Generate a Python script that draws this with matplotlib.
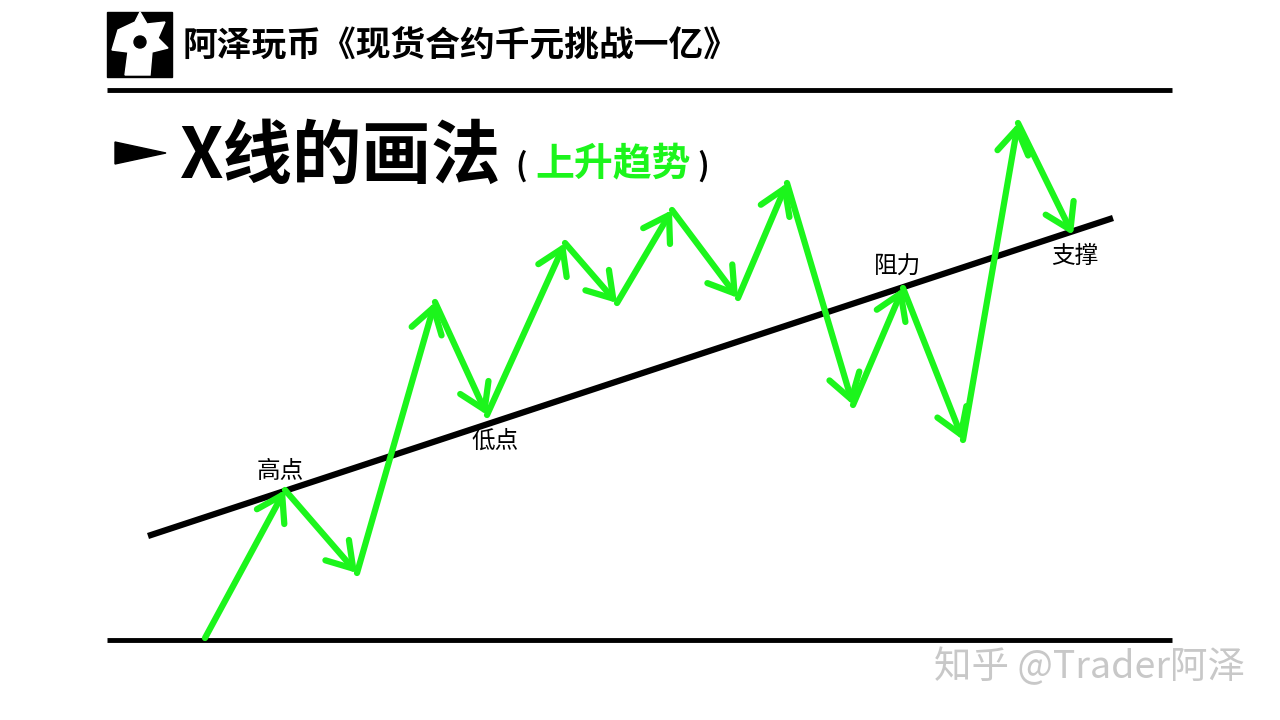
import matplotlib
matplotlib.use("Agg")
import matplotlib.pyplot as plt
from matplotlib.patches import FancyArrowPatch, Rectangle, Polygon, Circle

plt.rcParams['font.family'] = ['Noto Sans CJK SC', 'DejaVu Sans']

# zigzag price path (pixel coordinates of the slide, y down)
path_x = [205, 285, 357, 435, 487, 565, 617, 672, 738, 787, 853, 903, 963, 1018, 1073]
path_y = [638, 490, 573, 302, 415, 243, 303, 210, 298, 183, 405, 288, 440, 123, 235]
# trend line
trend_x = [148, 1113]
trend_y = [536, 218]
# annotations
label_text = ["高点", "低点", "阻力", "支撑"]
label_x = [280, 495, 898, 1075]
label_y = [472, 441, 267, 256]

GREEN = "#1cf51c"

fig = plt.figure(figsize=(12.8, 7.2), dpi=100)
ax = fig.add_axes([0, 0, 1, 1])
ax.set_xlim(0, 1280); ax.set_ylim(720, 0); ax.axis("off")

# header
ax.add_patch(Rectangle((107, 12), 65, 65, color="black"))
ax.add_patch(Polygon([(118, 30), (135, 22), (140, 12), (147, 24), (165, 22), (158, 38),
                      (168, 48), (152, 52), (150, 75), (125, 75), (128, 52), (112, 50)],
                     color="white"))
ax.add_patch(Circle((140, 42), 6, color="black"))
ax.text(183, 45, "阿泽玩币《现货合约千元挑战一亿》", fontsize=25, fontweight="bold",
        va="center", ha="left")
ax.plot([107, 1172], [90, 90], color="black", lw=3.5, solid_capstyle="butt")
ax.plot([107, 1172], [640, 640], color="black", lw=3.5, solid_capstyle="butt")

# title
ax.add_patch(Polygon([(115, 142), (115, 164), (166, 153)], color="black"))
ax.text(180, 158, "X线的画法", fontsize=50, fontweight="heavy", va="center", ha="left")
ax.text(515, 166, "(", fontsize=22, fontweight="bold", va="center", ha="left")
ax.text(535, 164, "上升趋势", fontsize=28, fontweight="bold", color=GREEN,
        va="center", ha="left")
ax.text(697, 166, ")", fontsize=22, fontweight="bold", va="center", ha="left")

# trend line
ax.plot(trend_x, trend_y, color="black", lw=4.5, solid_capstyle="butt", zorder=2)

# arrows
for i in range(len(path_x) - 1):
    ar = FancyArrowPatch((path_x[i], path_y[i]), (path_x[i + 1], path_y[i + 1]),
                         arrowstyle="->,head_length=11,head_width=7",
                         color=GREEN, lw=4.5, mutation_scale=1.6,
                         shrinkA=0, shrinkB=0, zorder=3)
    ax.add_patch(ar)

for t, x, y in zip(label_text, label_x, label_y):
    ax.text(x, y, t, fontsize=17, ha="center", va="center", zorder=4)

ax.text(1090, 668, "知乎 @Trader阿泽", fontsize=27, color="#c8c8c8",
        ha="center", va="center")

fig.savefig("out.png", dpi=100)
